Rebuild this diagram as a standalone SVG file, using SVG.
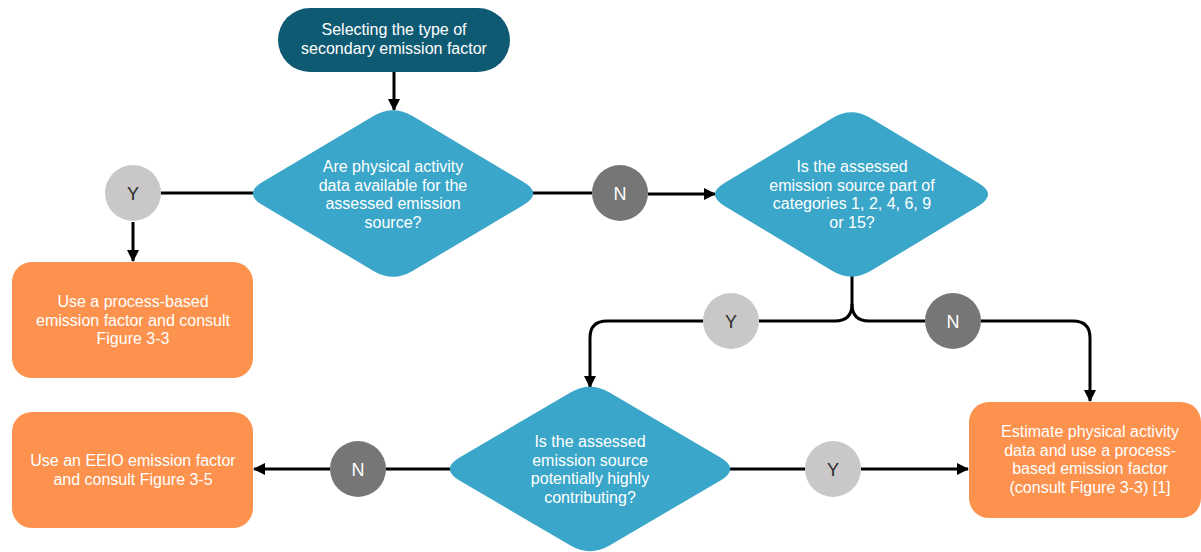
<svg xmlns="http://www.w3.org/2000/svg" width="1201" height="552" viewBox="0 0 1201 552">
  <defs>
    <marker id="arrow" viewBox="0 0 12 12" refX="11" refY="6" markerWidth="12" markerHeight="12" markerUnits="userSpaceOnUse" orient="auto">
      <path d="M0,0 L12,6 L0,12 Z" fill="#000"/>
    </marker>
    <style>
      .start { fill: #0f5a73; }
      .decision { fill: #3aa6c9; }
      .action { fill: #fd924e; }
      .yes { fill: #c9c7c7; }
      .no { fill: #767676; }
      .label { font-family: "Liberation Sans", Arial, sans-serif; font-size: 16px; fill: #ffffff; text-anchor: middle; }
      .yes-t { font-family: "Liberation Sans", Arial, sans-serif; font-size: 18px; fill: #2b2b2b; text-anchor: middle; }
      .no-t { font-family: "Liberation Sans", Arial, sans-serif; font-size: 18px; fill: #ffffff; text-anchor: middle; }
      .conn { fill: none; stroke: #000; stroke-width: 3; }
    </style>
  </defs>

  <rect width="1201" height="552" fill="#ffffff"/>

  <!-- connectors -->
  <g id="connectors">
    <path class="conn" d="M394,72 V110" marker-end="url(#arrow)"/>
    <path class="conn" d="M253,193 H161"/>
    <path class="conn" d="M133,222 V261" marker-end="url(#arrow)"/>
    <path class="conn" d="M533,193 H592"/>
    <path class="conn" d="M648,194 H715" marker-end="url(#arrow)"/>
    <path class="conn" d="M852,276 V304 Q852,321 835,321 H759"/>
    <path class="conn" d="M703,321 H607 Q590,321 590,338 V387" marker-end="url(#arrow)"/>
    <path class="conn" d="M852,304 Q852,321 869,321 H925"/>
    <path class="conn" d="M981,321 H1073 Q1090,321 1090,338 V401" marker-end="url(#arrow)"/>
    <path class="conn" d="M450,469 H386"/>
    <path class="conn" d="M330,469 H254" marker-end="url(#arrow)"/>
    <path class="conn" d="M730,469 H805"/>
    <path class="conn" d="M861,469 H968" marker-end="url(#arrow)"/>
  </g>

  <!-- start node -->
  <g id="start">
    <rect class="start" x="278" y="8" width="232" height="64" rx="32"/>
    <text class="label" x="394" y="35">Selecting the type of</text>
    <text class="label" x="394" y="53.5">secondary emission factor</text>
  </g>

  <!-- decision: physical activity data -->
  <g id="q-activity-data">
    <path class="decision" d="M373.5,116.1 Q393,104.5 412.5,116.1 L523.5,181.9 Q543,193.5 523.5,205.1 L412.5,270.9 Q393,282.5 373.5,270.9 L262.5,205.1 Q243,193.5 262.5,181.9 Z"/>
    <text class="label" x="393" y="172">Are physical activity</text>
    <text class="label" x="393" y="190.5">data available for the</text>
    <text class="label" x="393" y="209">assessed emission</text>
    <text class="label" x="393" y="227.5">source?</text>
  </g>

  <g id="y1">
    <circle class="yes" cx="133" cy="193" r="28"/>
    <text class="yes-t" x="133" y="199.5">Y</text>
  </g>

  <g id="process-based">
    <rect class="action" x="12" y="262" width="241" height="116" rx="20"/>
    <text class="label" x="133" y="307">Use a process-based</text>
    <text class="label" x="133" y="325.5">emission factor and consult</text>
    <text class="label" x="133" y="344">Figure 3-3</text>
  </g>

  <g id="n1">
    <circle class="no" cx="620" cy="193" r="28"/>
    <text class="no-t" x="620" y="199.5">N</text>
  </g>

  <!-- decision: category membership -->
  <g id="q-categories">
    <path class="decision" d="M832.5,117.9 Q851.5,106.5 870.5,117.9 L978.5,183.1 Q997.5,194.5 978.5,205.9 L870.5,271.1 Q851.5,282.5 832.5,271.1 L724.5,205.9 Q705.5,194.5 724.5,183.1 Z"/>
    <text class="label" x="852" y="172">Is the assessed</text>
    <text class="label" x="852" y="190.5">emission source part of</text>
    <text class="label" x="852" y="209">categories 1, 2, 4, 6, 9</text>
    <text class="label" x="852" y="227.5">or 15?</text>
  </g>

  <g id="y2">
    <circle class="yes" cx="731" cy="321" r="28"/>
    <text class="yes-t" x="731" y="327.5">Y</text>
  </g>

  <g id="n2">
    <circle class="no" cx="953" cy="321" r="28"/>
    <text class="no-t" x="953" y="327.5">N</text>
  </g>

  <!-- decision: contribution -->
  <g id="q-contributing">
    <path class="decision" d="M570.5,392.4 Q590,381 609.5,392.4 L720.5,457.6 Q740,469 720.5,480.4 L609.5,545.6 Q590,557 570.5,545.6 L459.5,480.4 Q440,469 459.5,457.6 Z"/>
    <text class="label" x="590" y="447">Is the assessed</text>
    <text class="label" x="590" y="465.5">emission source</text>
    <text class="label" x="590" y="484">potentially highly</text>
    <text class="label" x="590" y="502.5">contributing?</text>
  </g>

  <g id="n3">
    <circle class="no" cx="358" cy="469" r="28"/>
    <text class="no-t" x="358" y="475.5">N</text>
  </g>

  <g id="eeio">
    <rect class="action" x="12" y="412" width="241" height="116" rx="20"/>
    <text class="label" x="133" y="466">Use an EEIO emission factor</text>
    <text class="label" x="133" y="484.5">and consult Figure 3-5</text>
  </g>

  <g id="y3">
    <circle class="yes" cx="833" cy="469" r="28"/>
    <text class="yes-t" x="833" y="475.5">Y</text>
  </g>

  <g id="estimate">
    <rect class="action" x="969" y="402" width="232" height="116" rx="20"/>
    <text class="label" x="1090" y="437">Estimate physical activity</text>
    <text class="label" x="1090" y="455.5">data and use a process-</text>
    <text class="label" x="1090" y="474">based emission factor</text>
    <text class="label" x="1090" y="492.5">(consult Figure 3-3) [1]</text>
  </g>
</svg>
